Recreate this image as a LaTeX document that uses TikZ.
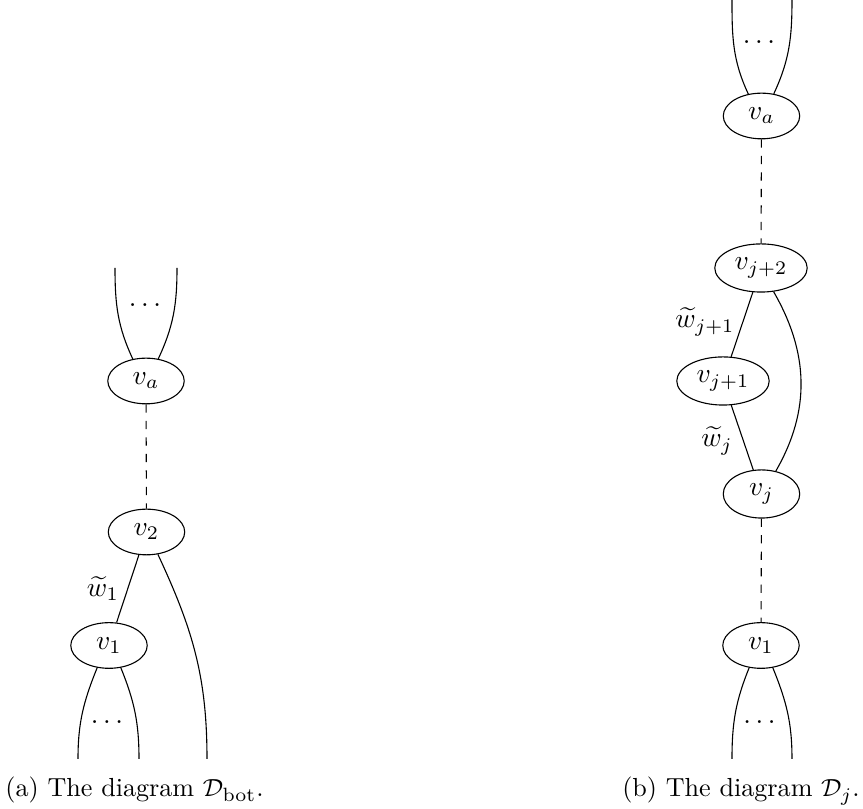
\documentclass[tikz,border=0pt]{standalone}
\usetikzlibrary{shapes.geometric}
\begin{document}
\begin{tikzpicture}[x=0.3636pt,y=-0.3636pt,
  vtx/.style={ellipse,draw,inner sep=0pt,minimum width=27.8pt,minimum height=16.6pt},
  widevtx/.style={vtx,minimum width=33.6pt,minimum height=17.5pt},
  dotnode/.style={inner sep=0pt},
  lbl/.style={inner sep=0pt},
  captext/.style={inner sep=0pt,anchor=base,font=\fontsize{9.5}{11}\selectfont}]
\useasboundingbox (0,0) rectangle (863,809);
% ---------- (a) ----------
\node[vtx] (aVa) at (146,381) {$v_a$};
\node[vtx] (aV2) at (146.5,532) {$v_2$};
\node[vtx] (aV1) at (109,645.5) {$v_1$};
\coordinate (aT1) at (115,268);
\coordinate (aT2) at (177,268);
\coordinate (aB1) at (78,759);
\coordinate (aB2) at (139,759);
\coordinate (aB3) at (207,759);
\node[dotnode] (aDt) at (145,305) {$\ldots$};
\node[dotnode] (aDb) at (107,722) {$\ldots$};
\node[lbl] (aW1) at (103,589) {$\widetilde{w}_1$};
\draw (aVa.121) to[out=115,in=-90] (aT1);
\draw (aVa.61) to[out=65,in=-90] (aT2);
\draw[dashed] (aVa) -- (aV2);
\draw (aV2) -- (aV1);
\draw (aV2.297) to[out=-65,in=90] (aB3);
\draw (aV1.242) to[out=-112,in=90] (aB1);
\draw (aV1.298) to[out=-68,in=90] (aB2);
\node[captext] (capA) at (134.5,797) {(a) The diagram $\mathcal{D}_{\mathrm{bot}}$.};
% ---------- (b) ----------
\node[vtx] (bVa) at (761.5,116) {$v_a$};
\node[widevtx] (bVj2) at (761,268) {$v_{j+2}$};
\node[widevtx] (bVj1) at (723,381) {$v_{j+1}$};
\node[vtx,minimum height=17.5pt] (bVj) at (761.5,494) {$v_j$};
\node[vtx] (bV1) at (761,645.5) {$v_1$};
\coordinate (bT1) at (732,0);
\coordinate (bT2) at (792,0);
\coordinate (bB1) at (732,759);
\coordinate (bB2) at (792,759);
\node[dotnode] (bDt) at (759,42) {$\ldots$};
\node[dotnode] (bDb) at (759.5,722) {$\ldots$};
\node[lbl] (bWj1) at (705,322) {$\widetilde{w}_{j+1}$};
\node[lbl] (bWj) at (717,441) {$\widetilde{w}_j$};
\draw (bVa.121) to[out=115,in=-90] (bT1);
\draw (bVa.61) to[out=65,in=-90] (bT2);
\draw[dashed] (bVa) -- (bVj2);
\draw (bVj2) -- (bVj1);
\draw (bVj1) -- (bVj);
\draw (bVj2.298) to[out=-60,in=60] (bVj.58);
\draw[dashed] (bVj) -- (bV1);
\draw (bV1.242) to[out=-112,in=90] (bB1);
\draw (bV1.298) to[out=-68,in=90] (bB2);
\node[captext] (capB) at (741,797) {(b) The diagram $\mathcal{D}_j$.};
\end{tikzpicture}
\end{document}
